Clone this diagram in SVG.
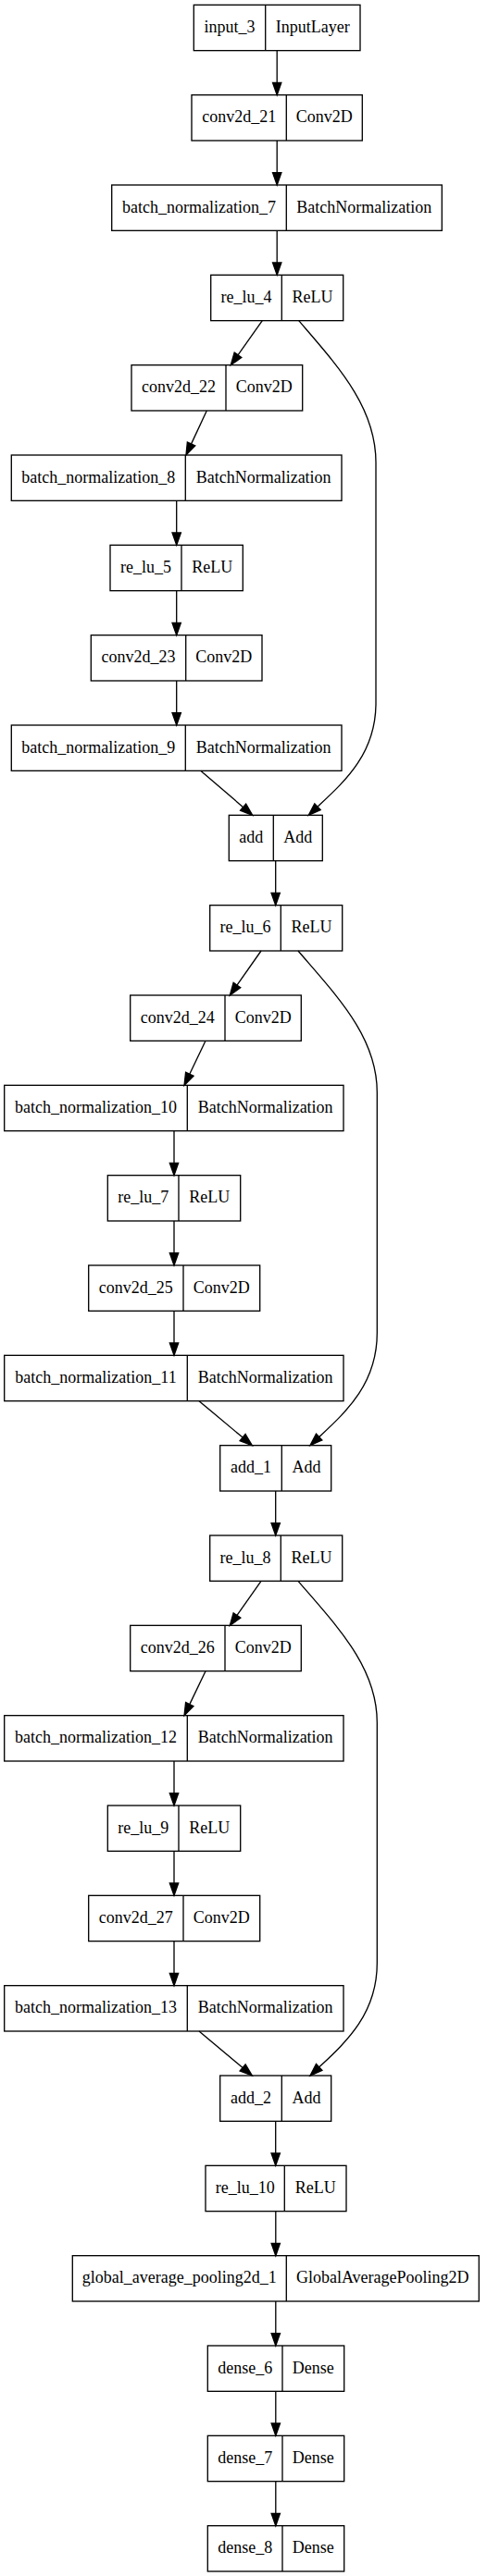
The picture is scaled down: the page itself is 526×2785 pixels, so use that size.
<svg xmlns="http://www.w3.org/2000/svg" width="526" height="2785" viewBox="0 0 526 2785">
<defs>
<style>
.box{fill:none;stroke:#000;stroke-width:1.33}
.t{font-family:"Liberation Serif","Times New Roman",serif;font-size:18px;text-anchor:middle;fill:#000}
.e{fill:none;stroke:#000;stroke-width:1.33}
</style>
<marker id="ah" markerUnits="userSpaceOnUse" markerWidth="14" markerHeight="10" refX="0" refY="5" orient="auto" overflow="visible">
<path d="M0,0.33 L13.33,5 L0,9.67 Z" fill="#000" stroke="#000" stroke-width="1.33"/>
</marker>
</defs>
<rect x="0" y="0" width="526" height="2785" fill="#fff"/>

<g id="connectors">
<path class="e" marker-end="url(#ah)" d="M299.2,54.67 V89.33"/>
<path class="e" marker-end="url(#ah)" d="M299.2,152 V186.67"/>
<path class="e" marker-end="url(#ah)" d="M299.2,249.33 V284"/>
<path class="e" marker-end="url(#ah)" d="M283.3,346.67 L257,383.8"/>
<path class="e" marker-end="url(#ah)" d="M322.7,346.67 C365,396 406,440 406,500 L406,760 C406,815 372.2,844.9 343,872.2"/>
<path class="e" marker-end="url(#ah)" d="M223.3,444 L206.6,479.9"/>
<path class="e" marker-end="url(#ah)" d="M190.7,541.33 V576"/>
<path class="e" marker-end="url(#ah)" d="M190.7,638.67 V673.33"/>
<path class="e" marker-end="url(#ah)" d="M190.7,736 V770.67"/>
<path class="e" marker-end="url(#ah)" d="M216.7,833.33 L262.6,872.65"/>
<path class="e" marker-end="url(#ah)" d="M297.7,930.67 V965.33"/>

<path class="e" marker-end="url(#ah)" d="M282,1028 L255.96,1065.1"/>
<path class="e" marker-end="url(#ah)" d="M322,1028 C364,1077 407.3,1121 407.3,1181 L407.3,1441 C407.3,1496 373.9,1526.2 344.7,1553.56"/>
<path class="e" marker-end="url(#ah)" d="M222,1125.33 L204.8,1161.3"/>
<path class="e" marker-end="url(#ah)" d="M188,1222.67 V1257.33"/>
<path class="e" marker-end="url(#ah)" d="M188,1320 V1354.67"/>
<path class="e" marker-end="url(#ah)" d="M188,1417.33 V1452"/>
<path class="e" marker-end="url(#ah)" d="M215,1514.67 L262.1,1554.1"/>
<path class="e" marker-end="url(#ah)" d="M297.7,1612 V1646.67"/>

<path class="e" marker-end="url(#ah)" d="M282,1709.33 L255.96,1746.43"/>
<path class="e" marker-end="url(#ah)" d="M322,1709.33 C364,1758.33 407.3,1802.33 407.3,1862.33 L407.3,2122.33 C407.3,2177.33 373.9,2207.53 344.7,2234.89"/>
<path class="e" marker-end="url(#ah)" d="M222,1806.67 L204.8,1842.63"/>
<path class="e" marker-end="url(#ah)" d="M188,1904 V1938.67"/>
<path class="e" marker-end="url(#ah)" d="M188,2001.33 V2036"/>
<path class="e" marker-end="url(#ah)" d="M188,2098.67 V2133.33"/>
<path class="e" marker-end="url(#ah)" d="M215,2196 L262.1,2235.43"/>
<path class="e" marker-end="url(#ah)" d="M297.7,2293.33 V2328"/>

<path class="e" marker-end="url(#ah)" d="M297.8,2390.67 V2425.33"/>
<path class="e" marker-end="url(#ah)" d="M297.8,2488 V2522.67"/>
<path class="e" marker-end="url(#ah)" d="M297.8,2585.33 V2620"/>
<path class="e" marker-end="url(#ah)" d="M297.8,2682.67 V2717.33"/>
</g>

<g id="input_3" transform="translate(0,5.33)"><rect class="box" x="209.3" y="0" width="179.7" height="49.33"/><line class="box" x1="286.7" y1="0" x2="286.7" y2="49.33"/><text class="t" x="248" y="29.67">input_3</text><text class="t" x="337.85" y="29.67">InputLayer</text></g>
<g id="conv2d_21" transform="translate(0,102.67)"><rect class="box" x="207" y="0" width="184.3" height="49.33"/><line class="box" x1="309.3" y1="0" x2="309.3" y2="49.33"/><text class="t" x="258.15" y="29.67">conv2d_21</text><text class="t" x="350.3" y="29.67">Conv2D</text></g>
<g id="batch_normalization_7" transform="translate(0,200)"><rect class="box" x="120.7" y="0" width="356.6" height="49.33"/><line class="box" x1="309.3" y1="0" x2="309.3" y2="49.33"/><text class="t" x="215" y="29.67">batch_normalization_7</text><text class="t" x="393.3" y="29.67">BatchNormalization</text></g>
<g id="re_lu_4" transform="translate(0,297.33)"><rect class="box" x="227.7" y="0" width="143" height="49.33"/><line class="box" x1="304.3" y1="0" x2="304.3" y2="49.33"/><text class="t" x="266" y="29.67">re_lu_4</text><text class="t" x="337.5" y="29.67">ReLU</text></g>
<g id="conv2d_22" transform="translate(0,394.67)"><rect class="box" x="142" y="0" width="184.7" height="49.33"/><line class="box" x1="244" y1="0" x2="244" y2="49.33"/><text class="t" x="193" y="29.67">conv2d_22</text><text class="t" x="285.35" y="29.67">Conv2D</text></g>
<g id="batch_normalization_8" transform="translate(0,492)"><rect class="box" x="12.3" y="0" width="356.7" height="49.33"/><line class="box" x1="200.3" y1="0" x2="200.3" y2="49.33"/><text class="t" x="106.3" y="29.67">batch_normalization_8</text><text class="t" x="284.65" y="29.67">BatchNormalization</text></g>
<g id="re_lu_5" transform="translate(0,589.33)"><rect class="box" x="119" y="0" width="143.3" height="49.33"/><line class="box" x1="196" y1="0" x2="196" y2="49.33"/><text class="t" x="157.5" y="29.67">re_lu_5</text><text class="t" x="229.15" y="29.67">ReLU</text></g>
<g id="conv2d_23" transform="translate(0,686.67)"><rect class="box" x="98.3" y="0" width="184.7" height="49.33"/><line class="box" x1="200.7" y1="0" x2="200.7" y2="49.33"/><text class="t" x="149.5" y="29.67">conv2d_23</text><text class="t" x="241.85" y="29.67">Conv2D</text></g>
<g id="batch_normalization_9" transform="translate(0,784)"><rect class="box" x="12.3" y="0" width="356.7" height="49.33"/><line class="box" x1="200.3" y1="0" x2="200.3" y2="49.33"/><text class="t" x="106.3" y="29.67">batch_normalization_9</text><text class="t" x="284.65" y="29.67">BatchNormalization</text></g>
<g id="add" transform="translate(0,881.33)"><rect class="box" x="247.3" y="0" width="101" height="49.33"/><line class="box" x1="295.3" y1="0" x2="295.3" y2="49.33"/><text class="t" x="271.3" y="29.67">add</text><text class="t" x="321.8" y="29.67">Add</text></g>
<g id="re_lu_6" transform="translate(0,978.67)"><rect class="box" x="226.7" y="0" width="143" height="49.33"/><line class="box" x1="303.3" y1="0" x2="303.3" y2="49.33"/><text class="t" x="265" y="29.67">re_lu_6</text><text class="t" x="336.5" y="29.67">ReLU</text></g>
<g id="conv2d_24" transform="translate(0,1076)"><rect class="box" x="140.7" y="0" width="184.6" height="49.33"/><line class="box" x1="243" y1="0" x2="243" y2="49.33"/><text class="t" x="191.85" y="29.67">conv2d_24</text><text class="t" x="284.15" y="29.67">Conv2D</text></g>
<g id="batch_normalization_10" transform="translate(0,1173.33)"><rect class="box" x="4.7" y="0" width="366.3" height="49.33"/><line class="box" x1="202.3" y1="0" x2="202.3" y2="49.33"/><text class="t" x="103.5" y="29.67">batch_normalization_10</text><text class="t" x="286.65" y="29.67">BatchNormalization</text></g>
<g id="re_lu_7" transform="translate(0,1270.67)"><rect class="box" x="116.3" y="0" width="143.4" height="49.33"/><line class="box" x1="193" y1="0" x2="193" y2="49.33"/><text class="t" x="154.65" y="29.67">re_lu_7</text><text class="t" x="226.35" y="29.67">ReLU</text></g>
<g id="conv2d_25" transform="translate(0,1368)"><rect class="box" x="95.7" y="0" width="185" height="49.33"/><line class="box" x1="198" y1="0" x2="198" y2="49.33"/><text class="t" x="146.85" y="29.67">conv2d_25</text><text class="t" x="239.35" y="29.67">Conv2D</text></g>
<g id="batch_normalization_11" transform="translate(0,1465.33)"><rect class="box" x="4.7" y="0" width="366.3" height="49.33"/><line class="box" x1="202.3" y1="0" x2="202.3" y2="49.33"/><text class="t" x="103.5" y="29.67">batch_normalization_11</text><text class="t" x="286.65" y="29.67">BatchNormalization</text></g>
<g id="add_1" transform="translate(0,1562.67)"><rect class="box" x="237.7" y="0" width="120" height="49.33"/><line class="box" x1="304.3" y1="0" x2="304.3" y2="49.33"/><text class="t" x="271" y="29.67">add_1</text><text class="t" x="331" y="29.67">Add</text></g>
<g id="re_lu_8" transform="translate(0,1660)"><rect class="box" x="226.7" y="0" width="143" height="49.33"/><line class="box" x1="303.3" y1="0" x2="303.3" y2="49.33"/><text class="t" x="265" y="29.67">re_lu_8</text><text class="t" x="336.5" y="29.67">ReLU</text></g>
<g id="conv2d_26" transform="translate(0,1757.33)"><rect class="box" x="140.7" y="0" width="184.6" height="49.33"/><line class="box" x1="243" y1="0" x2="243" y2="49.33"/><text class="t" x="191.85" y="29.67">conv2d_26</text><text class="t" x="284.15" y="29.67">Conv2D</text></g>
<g id="batch_normalization_12" transform="translate(0,1854.67)"><rect class="box" x="4.7" y="0" width="366.3" height="49.33"/><line class="box" x1="202.3" y1="0" x2="202.3" y2="49.33"/><text class="t" x="103.5" y="29.67">batch_normalization_12</text><text class="t" x="286.65" y="29.67">BatchNormalization</text></g>
<g id="re_lu_9" transform="translate(0,1952)"><rect class="box" x="116.3" y="0" width="143.4" height="49.33"/><line class="box" x1="193" y1="0" x2="193" y2="49.33"/><text class="t" x="154.65" y="29.67">re_lu_9</text><text class="t" x="226.35" y="29.67">ReLU</text></g>
<g id="conv2d_27" transform="translate(0,2049.33)"><rect class="box" x="95.7" y="0" width="185" height="49.33"/><line class="box" x1="198" y1="0" x2="198" y2="49.33"/><text class="t" x="146.85" y="29.67">conv2d_27</text><text class="t" x="239.35" y="29.67">Conv2D</text></g>
<g id="batch_normalization_13" transform="translate(0,2146.67)"><rect class="box" x="4.7" y="0" width="366.3" height="49.33"/><line class="box" x1="202.3" y1="0" x2="202.3" y2="49.33"/><text class="t" x="103.5" y="29.67">batch_normalization_13</text><text class="t" x="286.65" y="29.67">BatchNormalization</text></g>
<g id="add_2" transform="translate(0,2244)"><rect class="box" x="237.7" y="0" width="120" height="49.33"/><line class="box" x1="304.3" y1="0" x2="304.3" y2="49.33"/><text class="t" x="271" y="29.67">add_2</text><text class="t" x="331" y="29.67">Add</text></g>
<g id="re_lu_10" transform="translate(0,2341.33)"><rect class="box" x="222" y="0" width="152" height="49.33"/><line class="box" x1="307.3" y1="0" x2="307.3" y2="49.33"/><text class="t" x="264.65" y="29.67">re_lu_10</text><text class="t" x="340.65" y="29.67">ReLU</text></g>
<g id="global_average_pooling2d_1" transform="translate(0,2438.67)"><rect class="box" x="78.3" y="0" width="439" height="49.33"/><line class="box" x1="309.3" y1="0" x2="309.3" y2="49.33"/><text class="t" x="193.8" y="29.67">global_average_pooling2d_1</text><text class="t" x="413.3" y="29.67">GlobalAveragePooling2D</text></g>
<g id="dense_6" transform="translate(0,2536)"><rect class="box" x="224.3" y="0" width="147.4" height="49.33"/><line class="box" x1="305" y1="0" x2="305" y2="49.33"/><text class="t" x="264.65" y="29.67">dense_6</text><text class="t" x="338.35" y="29.67">Dense</text></g>
<g id="dense_7" transform="translate(0,2633.33)"><rect class="box" x="224.3" y="0" width="147.4" height="49.33"/><line class="box" x1="305" y1="0" x2="305" y2="49.33"/><text class="t" x="264.65" y="29.67">dense_7</text><text class="t" x="338.35" y="29.67">Dense</text></g>
<g id="dense_8" transform="translate(0,2730.67)"><rect class="box" x="224.3" y="0" width="147.4" height="49.33"/><line class="box" x1="305" y1="0" x2="305" y2="49.33"/><text class="t" x="264.65" y="29.67">dense_8</text><text class="t" x="338.35" y="29.67">Dense</text></g>
</svg>
